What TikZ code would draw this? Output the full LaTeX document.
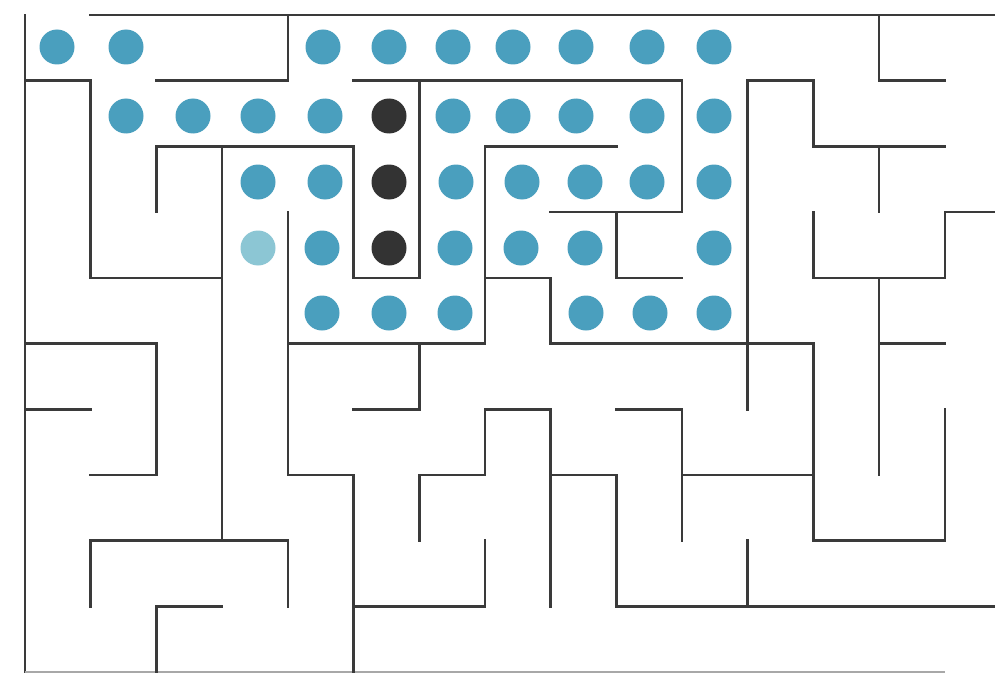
\documentclass[tikz,border=0pt]{standalone}
\definecolor{wallc}{HTML}{3A3A3A}
\definecolor{edgec}{HTML}{A8A8A8}
\definecolor{dotc}{HTML}{4A9FBE}
\definecolor{dotl}{HTML}{8CC6D4}
\definecolor{dotk}{HTML}{333333}
\begin{document}
\begin{tikzpicture}[x=1pt,y=-1pt,
  wall/.style={draw=wallc,line width=2.6pt,line cap=rect,line join=miter},
  faintwall/.style={draw=edgec,line width=2pt},
  bluedot/.style={fill=dotc},
  palédot/.style={fill=dotl},
  darkdot/.style={fill=dotk}]
\useasboundingbox (0,0) rectangle (995,674);
\fill[white] (0,0) rectangle (995,674);
\begin{scope}[shift={(25,15)},x=65.7pt,y=-65.7pt]
  % borders
  \draw[wall] (1,0) -- (14.8,0);
  \draw[wall] (0,0) -- (0,10);
  \draw[faintwall] (0,10) -- (14,10);
  % interior walls
  \draw[wall] (4,0) -- (4,1) -- (2,1);
  \draw[wall] (0,1) -- (1,1) -- (1,4) -- (3,4);
  \draw[wall] (2,3) -- (2,2) -- (5,2) -- (5,4) -- (6,4) -- (6,1);
  \draw[wall] (5,1) -- (10,1) -- (10,3) -- (8,3);
  \draw[wall] (3,2) -- (3,8);
  \draw[wall] (4,3) -- (4,7) -- (5,7) -- (5,10);
  \draw[wall] (9,2) -- (7,2) -- (7,5) -- (4,5);
  \draw[wall] (7,4) -- (8,4) -- (8,5) -- (12,5) -- (12,8) -- (14,8) -- (14,6);
  \draw[wall] (9,3) -- (9,4) -- (10,4);
  \draw[wall] (11,6) -- (11,1) -- (12,1) -- (12,2) -- (14,2);
  \draw[wall] (13,0) -- (13,1) -- (14,1);
  \draw[wall] (13,2) -- (13,3);
  \draw[wall] (12,3) -- (12,4) -- (14,4) -- (14,3) -- (14.8,3);
  \draw[wall] (13,4) -- (13,7);
  \draw[wall] (13,5) -- (14,5);
  \draw[wall] (0,5) -- (2,5) -- (2,7) -- (1,7);
  \draw[wall] (0,6) -- (1,6);
  \draw[wall] (6,5) -- (6,6) -- (5,6);
  \draw[wall] (8,6) -- (7,6) -- (7,7) -- (6,7) -- (6,8);
  \draw[wall] (8,6) -- (8,9);
  \draw[wall] (5,9) -- (7,9) -- (7,8);
  \draw[wall] (8,7) -- (9,7) -- (9,9) -- (14.8,9);
  \draw[wall] (9,6) -- (10,6) -- (10,8);
  \draw[wall] (10,7) -- (12,7);
  \draw[wall] (11,8) -- (11,9);
  \draw[wall] (1,9) -- (1,8) -- (4,8) -- (4,9);
  \draw[wall] (2,10) -- (2,9) -- (3,9);
\end{scope}
% dots, row 0
\foreach \x in {57,126,323,389,453,513,576,647,714}
  \fill[bluedot] (\x,47) circle[radius=17.5pt];
% row 1
\foreach \x in {126,193,258,325,453,513,576,647,714}
  \fill[bluedot] (\x,116) circle[radius=17.5pt];
\fill[darkdot] (389,116) circle[radius=17.5pt];
% row 2
\foreach \x in {258,325,456,522,585,647,714}
  \fill[bluedot] (\x,182) circle[radius=17.5pt];
\fill[darkdot] (389,182) circle[radius=17.5pt];
% row 3
\fill[palédot] (258,248) circle[radius=17.5pt];
\foreach \x in {322,455,521,585,714}
  \fill[bluedot] (\x,248) circle[radius=17.5pt];
\fill[darkdot] (389,248) circle[radius=17.5pt];
% row 4
\foreach \x in {322,389,455,586,650,714}
  \fill[bluedot] (\x,313) circle[radius=17.5pt];
\end{tikzpicture}
\end{document}
